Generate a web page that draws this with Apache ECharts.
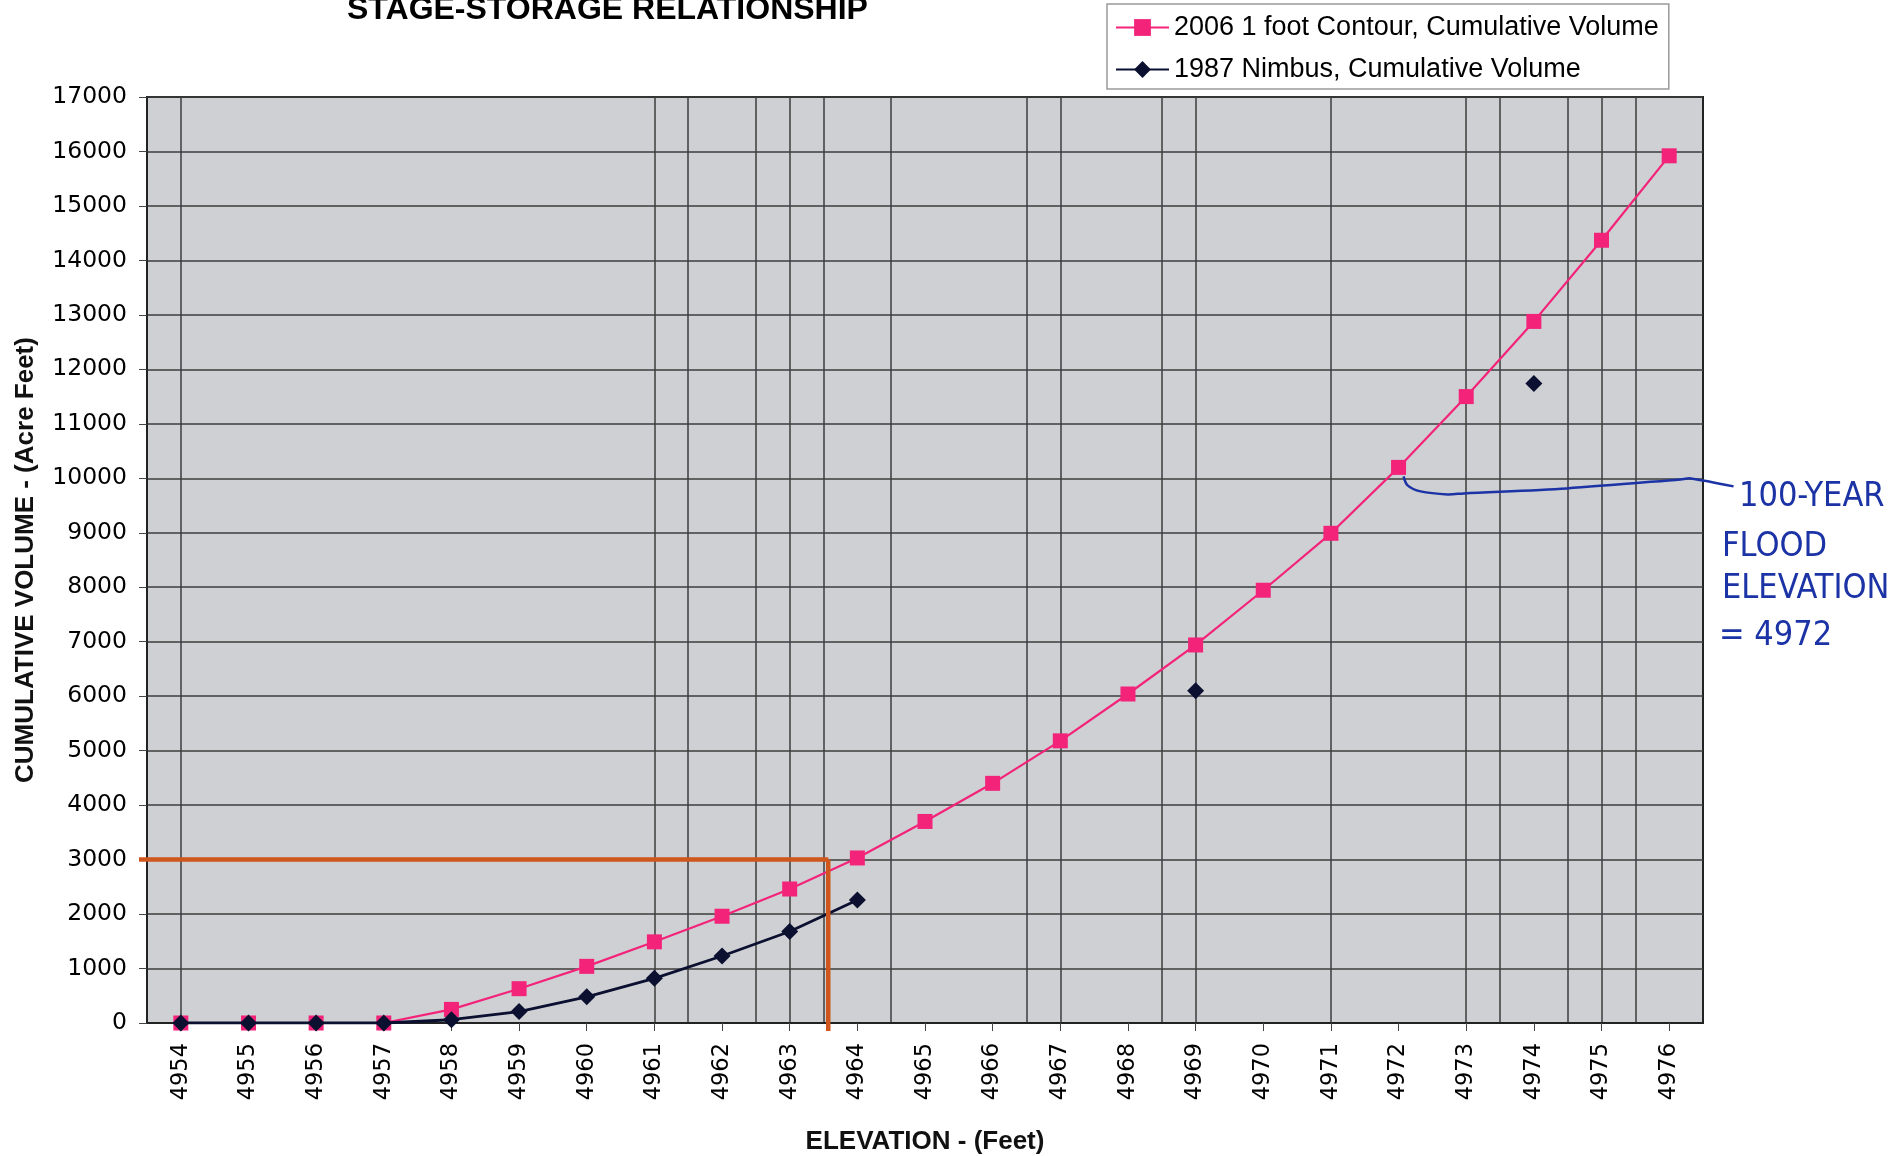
<!DOCTYPE html>
<html>
<head>
<meta charset="utf-8">
<title>Stage-Storage Relationship</title>
<script src="https://cdn.jsdelivr.net/npm/echarts@6/dist/echarts.min.js"></script>
<style>
    html, body { margin: 0; padding: 0; background: #fff; }
    #chart { width: 1901px; height: 1156px; }
</style>
</head>
<body>
<div id="chart"></div>
<script>
// values
var elevations = ['4954', '4955', '4956', '4957', '4958', '4959', '4960', '4961', '4962', '4963', '4964', '4965',
    '4966', '4967', '4968', '4969', '4970', '4971', '4972', '4973', '4974', '4975', '4976'];

var contour2006 = [0, 0, 0, 0, 250, 630, 1040, 1490, 1960, 2460, 3030, 3700,
    4400, 5180, 6040, 6940, 7945, 8990, 10200, 11500, 12880, 14370, 15920];

var nimbus1987 = [0, 0, 0, 0, 60, 210, 480, 820, 1230, 1680, 2260, null,
    null, null, null, 6100, null, null, null, null, 11740, null, null];

var seriesNames = ['2006 1 foot Contour, Cumulative Volume', '1987 Nimbus, Cumulative Volume'];

var volumeMin = 0, volumeMax = 17000, volumeStep = 1000;

// vertical grid lines that survive on the scan (elevation, .5 = between two columns)
var vGridAt = [4954, 4961, 4961.5, 4962.5, 4963, 4963.5, 4964.5, 4966.5, 4967, 4968.5,
    4969, 4971, 4973, 4973.5, 4974.5, 4975, 4975.5];

// hand-drawn notes
var guideVolume = 3000, guideElevation = 4963.57;
var floodElevation = 4972, floodVolume = 10200;
var floodNote = ['100-YEAR', 'FLOOD', 'ELEVATION', '= 4972'];

// half-step helper axis used only for the vertical grid
var halfSteps = [];
elevations.forEach(function (e) {
    halfSteps.push(String(+e - 0.5));
    halfSteps.push(e);
});
halfSteps.push(String(+elevations[elevations.length - 1] + 0.5));

var pink = '#f3237a';
var dark = '#0b1030';

var option = {
    backgroundColor: '#fff',
    animation: false,
    title: {
        text: 'STAGE-STORAGE RELATIONSHIP',
        left: 342,
        top: -11,
        textStyle: {
            fontFamily: 'Liberation Sans',
            fontSize: 32,
            fontWeight: 'bold',
            color: '#000'
        }
    },
    legend: {
        orient: 'vertical',
        left: 1107,
        top: 4,
        padding: [10, 10, 6, 8],
        itemWidth: 53,
        itemHeight: 21,
        itemGap: 15,
        backgroundColor: '#fff',
        borderColor: '#9a9a9a',
        borderWidth: 1.5,
        textStyle: {
            fontFamily: 'Liberation Sans',
            fontSize: 27,
            color: '#000'
        },
        data: seriesNames
    },
    grid: {
        left: 147,
        right: 198,
        top: 97,
        bottom: 133,
        show: true,
        backgroundColor: '#cfd0d3',
        borderColor: '#222',
        borderWidth: 2,
        outerBoundsMode: 'none'
    },
    xAxis: [{
        type: 'category',
        data: elevations,
        boundaryGap: true,
        name: 'ELEVATION - (Feet)',
        nameLocation: 'middle',
        nameGap: 106,
        nameTextStyle: {
            fontFamily: 'Liberation Sans',
            fontSize: 26,
            fontWeight: 'bold',
            color: '#111'
        },
        axisLine: { show: true, lineStyle: { color: '#222', width: 2 } },
        axisTick: { show: true, alignWithLabel: true, length: 8, lineStyle: { color: '#444' } },
        axisLabel: {
            rotate: 90,
            margin: 20,
            interval: 0,
            fontFamily: 'DejaVu Sans',
            fontSize: 22.5,
            color: '#000'
        },
        splitLine: { show: false }
    }, {
        type: 'category',
        data: halfSteps,
        boundaryGap: false,
        position: 'bottom',
        axisLine: { show: false },
        axisTick: { show: false },
        axisLabel: { show: false },
        splitLine: {
            show: true,
            interval: function (index, value) {
                return vGridAt.indexOf(parseFloat(value)) >= 0;
            },
            lineStyle: { color: '#3c3c3c', width: 1.5 }
        }
    }],
    yAxis: {
        type: 'value',
        min: volumeMin,
        max: volumeMax,
        interval: volumeStep,
        name: 'CUMULATIVE VOLUME - (Acre Feet)',
        nameLocation: 'middle',
        nameGap: 108,
        nameTextStyle: {
            fontFamily: 'Liberation Sans',
            fontSize: 26,
            fontWeight: 'bold',
            color: '#111'
        },
        axisLine: { show: true, lineStyle: { color: '#222', width: 2 } },
        axisTick: { show: true, length: 8, lineStyle: { color: '#444' } },
        axisLabel: {
            margin: 20,
            fontFamily: 'DejaVu Sans',
            fontSize: 23.5,
            color: '#000',
            formatter: function (v) { return String(v); }
        },
        splitLine: { show: true, lineStyle: { color: '#3c3c3c', width: 1.5 } }
    },
    series: [{
        name: seriesNames[0],
        type: 'line',
        data: contour2006,
        symbol: 'rect',
        symbolSize: 15,
        itemStyle: { color: pink },
        lineStyle: { color: pink, width: 2.2 },
        z: 3
    }, {
        name: seriesNames[1],
        type: 'line',
        data: nimbus1987,
        symbol: 'diamond',
        symbolSize: 17,
        connectNulls: false,
        itemStyle: { color: dark },
        lineStyle: { color: dark, width: 2.8 },
        z: 4
    }]
};

var myChart = echarts.init(document.getElementById('chart'));
myChart.setOption(option);

// pixel of an elevation (may be fractional) and volume
function toPx(elev, vol) {
    var i = elevations.indexOf(String(Math.floor(elev)));
    var a = myChart.convertToPixel({ xAxisIndex: 0, yAxisIndex: 0 }, [i, vol]);
    var b = myChart.convertToPixel({ xAxisIndex: 0, yAxisIndex: 0 }, [i + 1, vol]);
    var f = elev - Math.floor(elev);
    return [a[0] + (b[0] - a[0]) * f, a[1]];
}

var g = toPx(guideElevation, guideVolume);
var zero = toPx(guideElevation, 0);
var fp = toPx(floodElevation, floodVolume);

var orange = '#cf561c';
var blue = '#1c33a6';

var curveOffsets = [[5, 9], [9, 18], [22, 24], [49, 27], [65, 26], [168, 21], [282, 12], [292, 11], [335, 19]];

var graphics = [{
    type: 'line',
    shape: { x1: 139, y1: g[1], x2: g[0], y2: g[1] },
    style: { stroke: orange, lineWidth: 4.5 },
    z: 50
}, {
    type: 'line',
    shape: { x1: g[0], y1: g[1], x2: g[0], y2: zero[1] + 8 },
    style: { stroke: orange, lineWidth: 4.5 },
    z: 50
}, {
    type: 'polyline',
    shape: {
        points: curveOffsets.map(function (o) { return [fp[0] + o[0], fp[1] + o[1]]; }),
        smooth: 0.3
    },
    style: { stroke: blue, lineWidth: 2.5, fill: null },
    z: 50
}];

var noteX = [1739, 1722, 1722, 1719];
var noteY = [497, 547, 589, 636];
floodNote.forEach(function (t, k) {
    graphics.push({
        type: 'text',
        x: noteX[k],
        y: noteY[k],
        style: {
            text: t,
            fontFamily: 'Liberation Sans Narrow, DejaVu Sans Condensed, sans-serif',
            fontSize: 34,
            fill: blue,
            verticalAlign: 'middle'
        },
        z: 50
    });
});

myChart.setOption({ graphic: graphics });

window.addEventListener('resize', function () {
    myChart.resize();
});
</script>
</body>
</html>
